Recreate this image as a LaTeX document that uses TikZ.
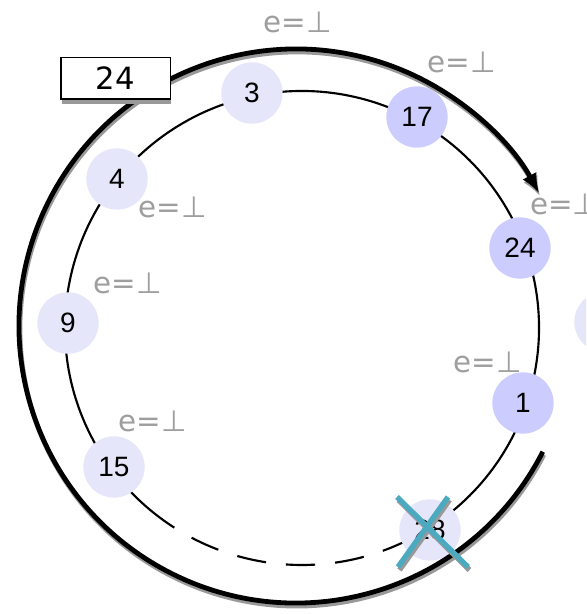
\documentclass[tikz,border=0pt]{standalone}
\usepackage{fontspec}
\setmainfont{Liberation Sans}
\newfontfamily\dejavu{DejaVu Sans}
\usepackage{tikz}
\usetikzlibrary{arrows.meta,shadows}

\definecolor{peerlight}{RGB}{230,230,250}
\definecolor{peerdark}{RGB}{204,204,255}
\definecolor{crossblue}{RGB}{75,170,192}

\begin{document}
\begin{tikzpicture}[
    x=0.75pt, y=0.75pt,
    peer/.style={
        circle,
        fill=peerlight,
        minimum size=46pt,
        inner sep=0pt,
        font=\fontsize{21}{23}\selectfont
    },
    hot/.style={peer, fill=peerdark},
    nil/.style={
        text=black!38,
        inner sep=0pt,
        font=\dejavu\fontsize{22}{24}\selectfont
    },
    ring/.style={line width=1.6pt},
    sweep/.style={line width=3.6pt, -{Latex[length=15pt,width=12pt]}},
    keybox/.style={
        draw,
        fill=white,
        line width=1pt,
        minimum width=82pt,
        minimum height=31pt,
        font=\dejavu\fontsize{23}{25}\selectfont,
        drop shadow={shadow xshift=0.75pt, shadow yshift=-3.5pt, fill=black!40, opacity=1}
    }
]

\clip (0,0) rectangle (586,614);

\coordinate (hub) at (302,286);
\coordinate (orbit) at (296,288);
\coordinate (orbitshade) at (297,285);

% inner ring, dashed at the bottom
\draw[ring] ([shift={(-58:237)}]hub) arc[start angle=-58, end angle=237.4, radius=237];
\draw[ring, dash pattern=on 22pt off 15pt, dash phase=22pt]
    ([shift={(237.4:237)}]hub) arc[start angle=237.4, end angle=302, radius=237];

% peers
\node[peer] (p3) at (252,521) {3};
\node[hot] (p17) at (417,497) {17};
\node[hot] (p24) at (520,366) {24};
\node[hot] (p1) at (523,211) {1};
\node[peer] (p28) at (430,84) {28};
\node[peer] (p15) at (114,147) {15};
\node[peer] (p9) at (68,291) {9};
\node[peer] (p4) at (117,435) {4};
\node[peer] (pr) at (605,292) {};

% empty entries
\node[nil] (e1) at (298,592) {e=⊥};
\node[nil] (e2) at (462,552) {e=⊥};
\node[nil, anchor=west] (e3) at (530,410) {e=⊥};
\node[nil] (e4) at (173,407) {e=⊥};
\node[nil] (e5) at (128,331) {e=⊥};
\node[nil] (e6) at (153,193) {e=⊥};
\node[nil] (e7) at (488,252) {e=⊥};

% lookup sweep
\draw[sweep, black!40] ([shift={(-27:277)}]orbitshade) arc[start angle=-27, end angle=-331.4, radius=277];
\draw[sweep] ([shift={(-27:277)}]orbit) arc[start angle=-27, end angle=-331.4, radius=277];

% failed peer
\foreach \dx/\dy/\col in {1.5/-3/black!40, 0/0/crossblue}
    \draw[\col, line width=4pt]
        ([shift={(-33+\dx,33+\dy)}]p28.center) -- ([shift={(38+\dx,-37+\dy)}]p28.center)
        ([shift={(18+\dx,33+\dy)}]p28.center) -- ([shift={(-32+\dx,-37+\dy)}]p28.center);

\node[keybox] (key) at (115.5,535.5) {24};

\end{tikzpicture}
\end{document}
